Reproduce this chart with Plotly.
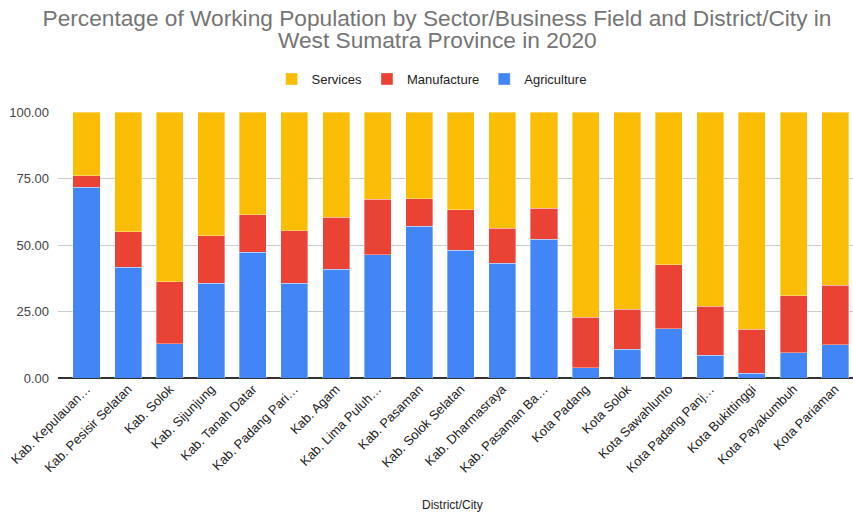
import plotly.graph_objects as go

categories = [
    "Kab. Kepulauan Mentawai", "Kab. Pesisir Selatan", "Kab. Solok", "Kab. Sijunjung",
    "Kab. Tanah Datar", "Kab. Padang Pariaman", "Kab. Agam", "Kab. Lima Puluh Kota",
    "Kab. Pasaman", "Kab. Solok Selatan", "Kab. Dharmasraya", "Kab. Pasaman Barat",
    "Kota Padang", "Kota Solok", "Kota Sawahlunto", "Kota Padang Panjang",
    "Kota Bukittinggi", "Kota Payakumbuh", "Kota Pariaman",
]
tick_labels = [
    "Kab. Kepulauan…", "Kab. Pesisir Selatan", "Kab. Solok", "Kab. Sijunjung",
    "Kab. Tanah Datar", "Kab. Padang Pari…", "Kab. Agam", "Kab. Lima Puluh…",
    "Kab. Pasaman", "Kab. Solok Selatan", "Kab. Dharmasraya", "Kab. Pasaman Ba…",
    "Kota Padang", "Kota Solok", "Kota Sawahlunto", "Kota Padang Panj…",
    "Kota Bukittinggi", "Kota Payakumbuh", "Kota Pariaman",
]
agriculture = [71.8, 41.7, 12.9, 35.7, 47.2, 35.7, 40.9, 46.4, 57.1, 48.1,
               43.1, 52.1, 3.9, 10.9, 18.5, 8.6, 1.8, 9.5, 12.5]
manufacture = [4.3, 13.3, 23.3, 17.7, 14.2, 19.7, 19.6, 20.8, 10.3, 15.1,
               13.2, 11.7, 18.9, 15.0, 24.1, 18.3, 16.6, 21.5, 22.3]
services = [23.9, 45.0, 63.8, 46.6, 38.6, 44.6, 39.5, 32.8, 32.6, 36.8,
            43.7, 36.2, 77.2, 74.1, 57.4, 73.1, 81.6, 69.0, 65.2]
title_lines = [
    "Percentage of Working Population by Sector/Business Field and District/City in",
    "West Sumatra Province in 2020",
]

edge = dict(width=0.6, color="rgba(255,255,255,0.6)")
fig = go.Figure()
fig.add_trace(go.Bar(name="Agriculture", x=categories, y=agriculture,
                     marker=dict(color="#4285F4", line=edge), legendrank=3))
fig.add_trace(go.Bar(name="Manufacture", x=categories, y=manufacture,
                     marker=dict(color="#EA4335", line=edge), legendrank=2))
fig.add_trace(go.Bar(name="Services", x=categories, y=services,
                     marker=dict(color="#FBBC04", line=edge), legendrank=1))

title_font = dict(family="Liberation Sans, Arial, sans-serif", size=22.7, color="#757575")
fig.update_layout(
    barmode="stack",
    bargap=0.35,
    width=853, height=517,
    paper_bgcolor="white", plot_bgcolor="white",
    font=dict(family="Liberation Sans, Arial, sans-serif", color="#444444"),
    title=dict(
        text=title_lines[0],
        x=437 / 853, xanchor="center", xref="container", yref="container",
        y=1 - 18 / 517, yanchor="middle",
        font=title_font,
    ),
    annotations=[
        dict(
            text=title_lines[1], showarrow=False,
            xref="paper", yref="paper",
            x=(437 - 58) / 795, xanchor="center",
            y=1 + (112 - 40) / 266, yanchor="middle",
            font=title_font,
        ),
        dict(
            text="District/City", showarrow=False,
            xref="paper", yref="paper",
            x=(452 - 58) / 795, xanchor="center",
            y=-(505 - 378) / 266, yanchor="middle",
            font=dict(size=12, color="#222222"),
        ),
    ],
    legend=dict(orientation="h", traceorder="normal",
                xref="container", x=0.506, xanchor="center",
                yref="container", y=1 - 79 / 517, yanchor="middle",
                font=dict(size=13, color="#222222"), itemwidth=30),
    margin=dict(l=58, r=0, t=112, b=139, autoexpand=False),
    xaxis=dict(
        tickmode="array", tickvals=categories, ticktext=tick_labels,
        tickangle=-45, tickfont=dict(size=13, color="#222222"),
        range=[-0.685, 18.43], showgrid=False, ticks="", automargin=False,
    ),
    yaxis=dict(
        range=[0, 100], tickvals=[0, 25, 50, 75, 100],
        ticktext=["0.00", "25.00", "50.00", "75.00", "100.00"],
        tickfont=dict(size=13, color="#444444"), automargin=False,
        gridcolor="#cccccc", gridwidth=1, zeroline=True, zerolinecolor="#333333",
        zerolinewidth=1.5, ticks="", ticklabelstandoff=8,
    ),
)

fig.write_html(
    "out.html",
    config={"displayModeBar": False},
    post_script="document.body.style.margin='0';document.body.style.overflow='hidden';",
)
